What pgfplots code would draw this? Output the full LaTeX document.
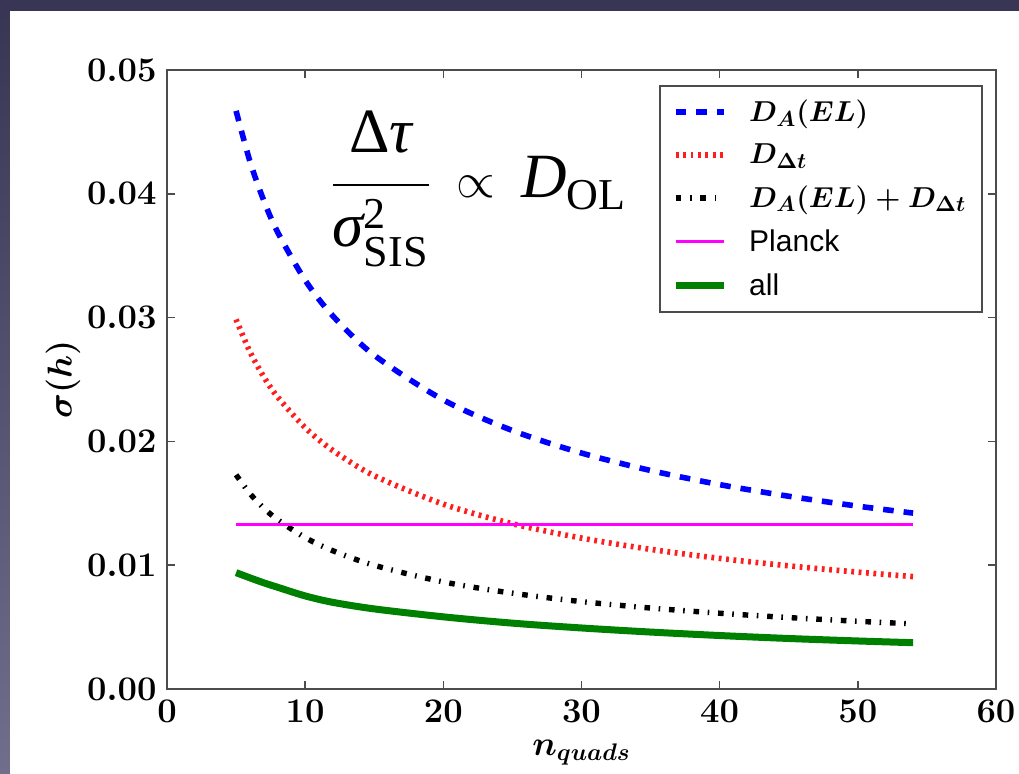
\documentclass[border=0pt]{standalone}
\usepackage{amsmath}
\usepackage{fontspec}
\usepackage{pgfplots}
\pgfplotsset{compat=1.18}
\newfontfamily\helv{Liberation Sans}
\newfontfamily\tms{Liberation Serif}
\definecolor{slide}{RGB}{56,54,84}
\definecolor{slidelight}{RGB}{112,110,138}
\definecolor{mplgreen}{RGB}{0,128,0}
\definecolor{mplmagenta}{RGB}{255,0,255}
\definecolor{mplblue}{RGB}{0,0,255}
\definecolor{mplred}{RGB}{255,30,30}
\newcommand\tmr[1]{\text{\tms #1}}
\newcommand\tmi[1]{\text{\tms\itshape #1}}

\pgfplotstableread{
n      blue     red      black    green
5      0.04670  0.02985  0.01730  0.00940
6      0.04263  0.02725  0.01579  0.00898
7      0.03947  0.02523  0.01462  0.00858
8      0.03692  0.02360  0.01368  0.00822
10     0.03302  0.02111  0.01223  0.00752
12     0.03014  0.01927  0.01117  0.00700
15     0.02696  0.01723  0.00999  0.00647
20     0.02335  0.01493  0.00865  0.00583
25     0.02088  0.01335  0.00774  0.00532
30     0.01906  0.01219  0.00706  0.00493
35     0.01765  0.01128  0.00654  0.00460
40     0.01651  0.01055  0.00612  0.00432
45     0.01557  0.00995  0.00577  0.00408
50     0.01477  0.00944  0.00547  0.00388
54     0.01421  0.00908  0.00526  0.00374
}\curves

\begin{document}
\begin{tikzpicture}[x=1pt,y=1pt]
\useasboundingbox (0,0) rectangle (509.5,386.5);
\fill[slide] (0,0) rectangle (509.5,386.5);
\shade[top color=slide,bottom color=slidelight] (0,0) rectangle (5,381);
\fill[white] (5,0) rectangle (509.5,381);
\begin{axis}[
  at={(83.5pt,42pt)}, anchor=south west, scale only axis,
  width=414.5pt, height=309.5pt,
  xmin=0, xmax=60, ymin=0, ymax=0.05,
  xtick={0,10,20,30,40,50,60},
  ytick={0,0.01,0.02,0.03,0.04,0.05},
  scaled y ticks=false,
  tick label style={font=\fontsize{17}{20}\selectfont\boldmath, inner sep=0pt},
  xticklabel style={anchor=north, yshift=-5.5pt},
  yticklabel style={anchor=east, xshift=-5pt, /pgf/number format/fixed, /pgf/number format/fixed zerofill, /pgf/number format/precision=2},
  axis line style={black!70, line width=1pt},
  tick style={black!70, line width=0.8pt},
  major tick length=4pt,
  tick align=inside,
  xlabel={$n_{quads}$},
  ylabel={$\sigma(h)$},
  label style={font=\fontsize{17.5}{21}\selectfont\boldmath},
  x label style={at={(axis description cs:0.5,0)}, anchor=center, yshift=-32pt},
  y label style={at={(axis description cs:0,0.5)}, anchor=center, yshift=52pt},
  legend style={at={(0.9843,0.9758)}, anchor=north east, draw=black!70,
    line width=0.8pt, font=\fontsize{15.3}{18}\selectfont\boldmath,
    row sep=5.6pt, inner xsep=6pt, inner ysep=5pt},
  legend cell align=left,
  legend image code/.code={\draw[#1] (0pt,0pt) -- (24pt,0pt); \path (33pt,0pt);},
]
\addplot[mplblue, line width=2.8pt, dash pattern=on 5.3pt off 5pt, smooth] table[x=n,y=blue] {\curves};
\addlegendentry{$D_A(EL)$}
\addplot[mplred, line width=2.8pt, dash pattern=on 1.4pt off 2.3pt, smooth] table[x=n,y=red] {\curves};
\addlegendentry{$D_{\Delta t}$}
\addplot[black, line width=2.7pt, dash pattern=on 2.8pt off 4.3pt on 0.8pt off 4.4pt, smooth] table[x=n,y=black] {\curves};
\addlegendentry{$D_A(EL)+D_{\Delta t}$}
\addplot[mplmagenta, line width=1.4pt] coordinates {(5,0.01332) (54,0.01332)};
\addlegendentry{\fontsize{15}{18}\selectfont\helv Planck}
\addplot[mplgreen, line width=3.5pt, smooth] table[x=n,y=green] {\curves};
\addlegendentry{\fontsize{15}{18}\selectfont\helv all}
\node[anchor=base west, inner sep=0pt, font=\fontsize{31.5}{36}\selectfont]
  at (axis cs:11.8,0.0397)
  {$\dfrac{\rule[-13pt]{0pt}{1pt}\tmr{Δ}\tmi{τ}}{\rule{0pt}{27pt}\tmi{σ}^{\tmr{2}}_{\tmr{SIS}}}\hspace{6pt}\propto\hspace{6pt}\tmi{D}_{\tmr{OL}}$};
\end{axis}
\end{tikzpicture}
\end{document}
